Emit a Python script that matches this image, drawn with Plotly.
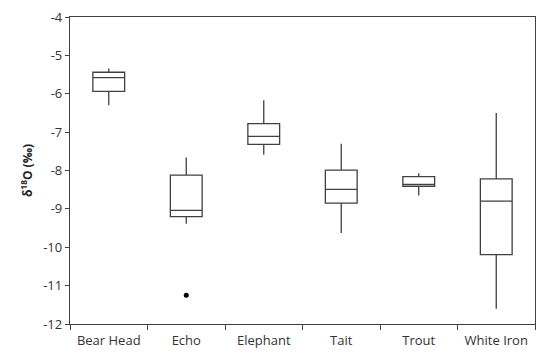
import plotly.graph_objects as go

categories = ["Bear Head", "Echo", "Elephant", "Tait", "Trout", "White Iron"]
upper_whisker = [-5.34, -7.66, -6.17, -7.30, -8.07, -6.50]
q3_values = [-5.44, -8.12, -6.78, -7.99, -8.16, -8.22]
medians = [-5.58, -9.04, -7.11, -8.49, -8.36, -8.80]
q1_values = [-5.94, -9.20, -7.32, -8.85, -8.41, -10.19]
lower_whisker = [-6.30, -9.39, -7.59, -9.63, -8.65, -11.60]
outlier_cats = ["Echo"]
outlier_vals = [-11.25]
y_ticks = [-12, -11, -10, -9, -8, -7, -6, -5, -4]

fig = go.Figure()
fig.add_trace(go.Box(
    x=categories,
    q1=q1_values, median=medians, q3=q3_values,
    lowerfence=lower_whisker, upperfence=upper_whisker,
    fillcolor="rgba(0,0,0,0)",
    line=dict(color="#404040", width=1.3),
    whiskerwidth=0,
    width=0.41,
    boxpoints=False,
    showlegend=False,
    hoverinfo="skip",
))
fig.add_trace(go.Scatter(
    x=outlier_cats, y=outlier_vals, mode="markers",
    marker=dict(color="black", size=5),
    showlegend=False,
))

font_family = "Open Sans, Noto Sans, DejaVu Sans, sans-serif"
fig.update_layout(
    width=552, height=360,
    margin=dict(l=70, r=17, t=17, b=36, autoexpand=False),
    paper_bgcolor="white", plot_bgcolor="white",
    font=dict(family=font_family, size=13, color="#333333"),
    xaxis=dict(
        type="category",
        categoryorder="array", categoryarray=categories,
        range=[-0.5, 5.5],
        automargin=False,
        showline=True, linecolor="#404040", linewidth=1.3, mirror=True,
        ticks="outside", tickson="boundaries", ticklen=5, tickcolor="#404040",
        ticklabelstandoff=4,
        showgrid=False, zeroline=False,
        tickfont=dict(size=13, color="#333333"),
    ),
    yaxis=dict(
        range=[-12, -4],
        automargin=False,
        tickvals=y_ticks,
        ticktext=[str(v) for v in y_ticks],
        showline=True, linecolor="#404040", linewidth=1.3, mirror=True,
        ticks="outside", ticklen=4, tickcolor="#404040",
        showgrid=False, zeroline=False,
        tickfont=dict(size=13, color="#333333"),
        title=dict(text="<b>δ<sup>18</sup>O (‰)</b>", font=dict(size=12, color="#222222"), standoff=7),
    ),
)

fig.write_html("out.html", config={"displayModeBar": False},
               post_script="document.body.style.margin='0';")
